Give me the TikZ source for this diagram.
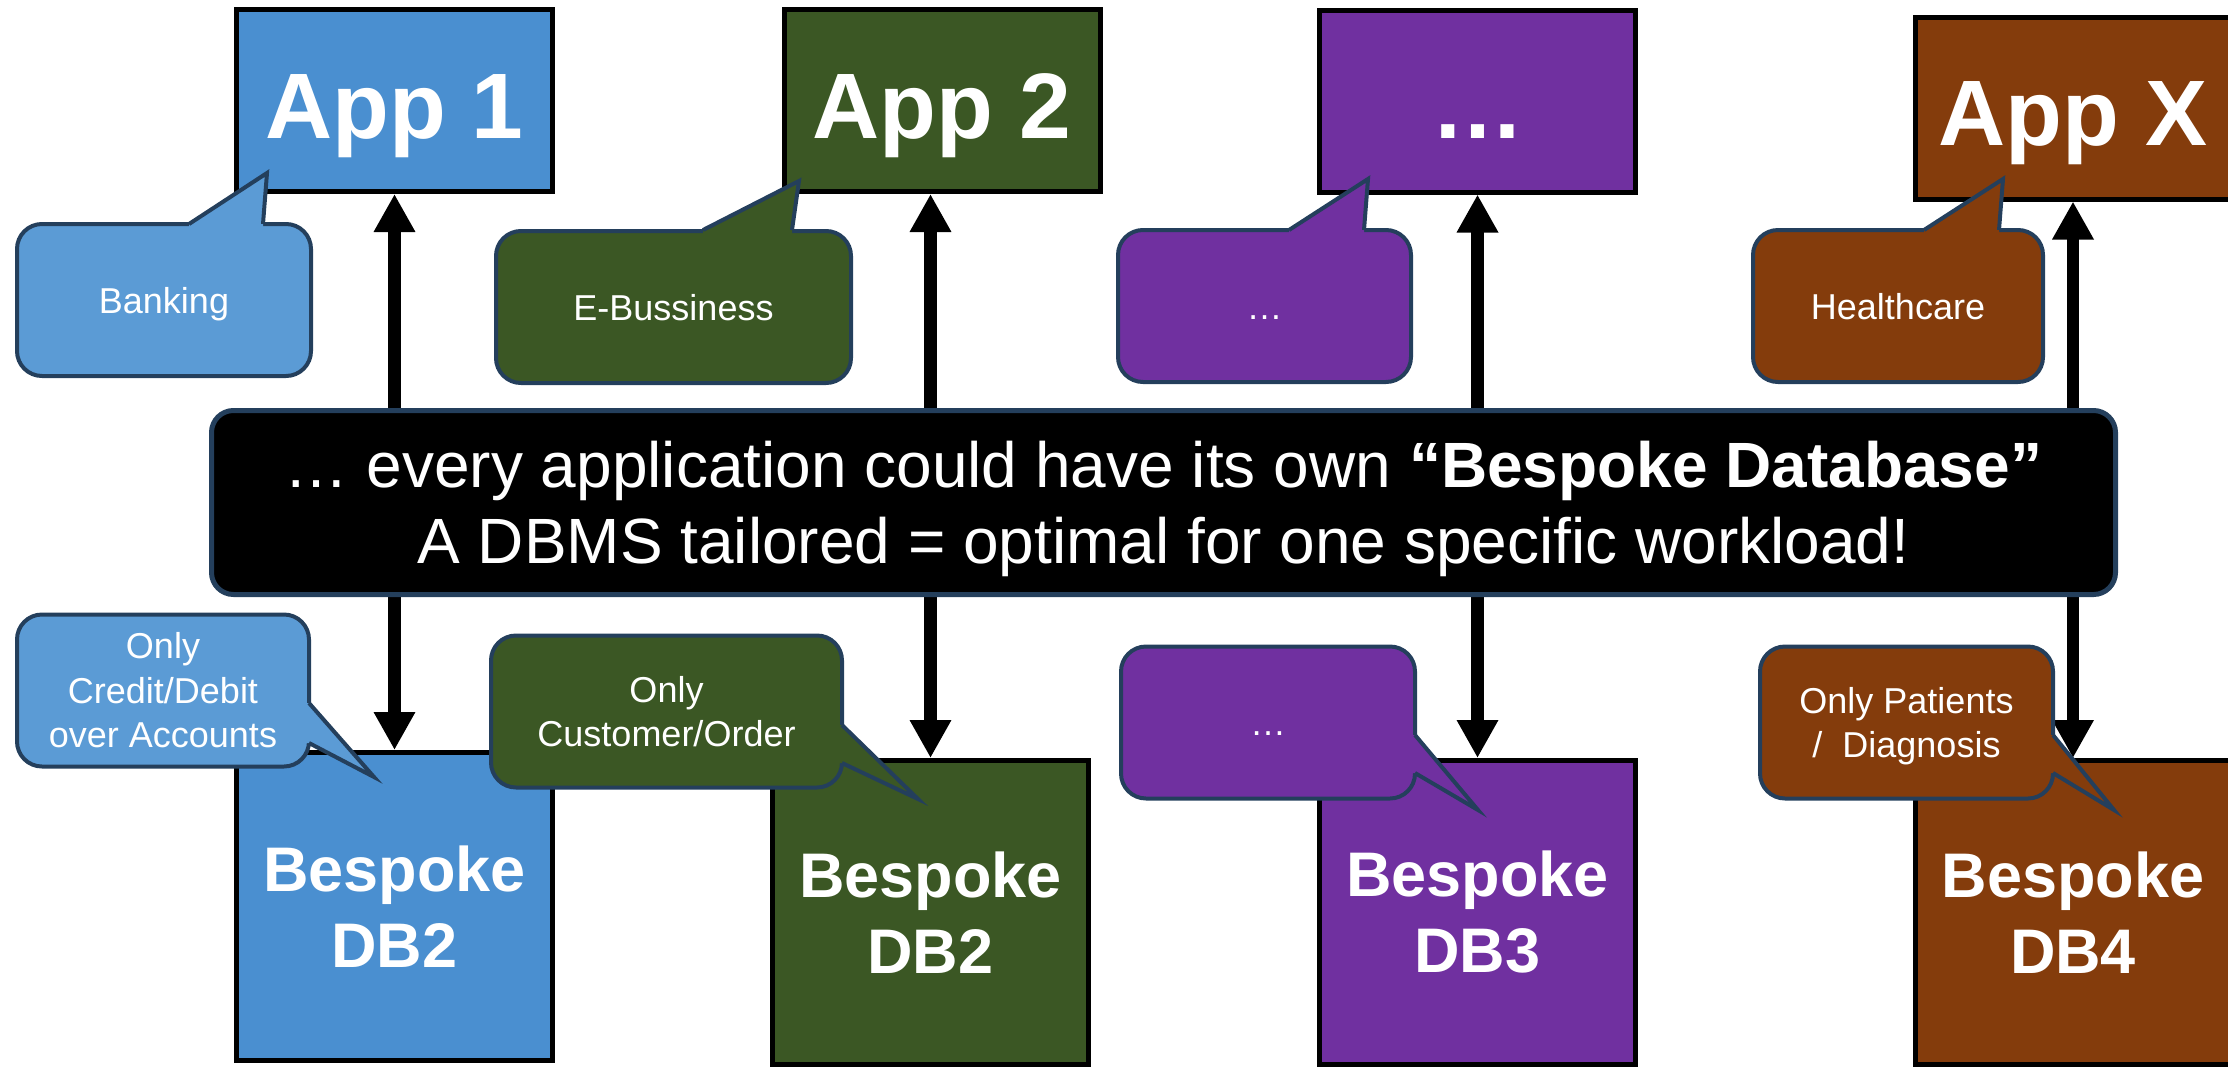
\documentclass[tikz,border=0pt]{standalone}
\usepackage{fontspec}
\setmainfont{Liberation Sans}
\usetikzlibrary{arrows.meta}

\definecolor{appblue}{HTML}{4A8FD0}
\definecolor{noteblue}{HTML}{5B9BD5}
\definecolor{appgreen}{HTML}{3B5724}
\definecolor{apppurple}{HTML}{7030A0}
\definecolor{appbrown}{HTML}{843C0C}
\definecolor{rim}{HTML}{243F5C}

\begin{document}
\begin{tikzpicture}[x=1pt,y=-1pt,
      app/.style={draw=black,line width=5pt,text=white,inner sep=0pt,
        minimum width=316pt,minimum height=182pt,text height=75pt,text depth=0pt,
        font=\bfseries\fontsize{93}{100}\selectfont},
      db/.style={draw=black,line width=5pt,text=white,inner sep=0pt,align=center,
        minimum width=316pt,minimum height=304pt,
        font=\bfseries\fontsize{63}{76}\selectfont},
      note/.style={draw=rim,line width=4pt,rounded corners=25pt,text=white,inner sep=0pt,
        align=center,minimum height=152pt,font=\fontsize{36}{44.5}\selectfont},
      oneline/.style={text height=26pt,text depth=0pt},
      beak/.style={draw=rim,line width=4pt,line join=miter},
      link/.style={line width=12.5pt,{Triangle[width=39pt,length=38pt]}-{Triangle[width=39pt,length=38pt]}},
      banner/.style={draw=rim,line width=5pt,fill=black,rounded corners=22pt,text=white,
        align=center,minimum width=1904pt,minimum height=184pt,text depth=0pt,
        font=\fontsize{64}{76}\selectfont}]
      \useasboundingbox (0,0) rectangle (2228,1069);

      % applications
      \node[app,fill=appblue] (app1) at (394.5,100.5) {App 1};
      \node[app,fill=appgreen] (app2) at (942,100.5) {App 2};
      \node[app,fill=apppurple] (app3) at (1477.5,101) {…};
      \node[app,fill=appbrown] (appx) at (2073,108) {App X};

      % bespoke databases
      \node[db,fill=appblue,minimum height=308pt] (db1) at (394.5,906.5) {Bespoke\\DB2};
      \node[db,fill=appgreen] (db2) at (930.5,912.5) {Bespoke\\DB2};
      \node[db,fill=apppurple] (db3) at (1477.5,912.5) {Bespoke\\DB3};
      \node[db,fill=appbrown] (db4) at (2073,912.5) {Bespoke\\DB4};

      \foreach \a/\d in {app1/db1,app3/db3,appx/db4}
        \draw[link] (\a) -- (\d);
      \draw[link] (db2.north |- app2.south) -- (db2.north);

      % domain notes
      \node[note,oneline,fill=noteblue,minimum width=294pt] (bank) at (164,300) {Banking};
      \node[note,oneline,fill=appgreen,minimum width=355pt] (shop) at (673.5,307) {E-Bussiness};
      \node[note,oneline,fill=apppurple,minimum width=293pt] (etc1) at (1264.5,306) {…};
      \node[note,oneline,fill=appbrown,minimum width=290pt] (care) at (1898,306) {Healthcare};
      \foreach \col/\l/\tx/\ty/\r/\y in {noteblue/189/267/173/263/224,appgreen/703/799/181/792/230,
          apppurple/1289/1368/179/1364/230,appbrown/1924/2003/179/1999/230}{
        \fill[\col] (\l,\y+5) -- (\l,\y) -- (\tx,\ty) -- (\r,\y) -- (\r,\y+5) -- cycle;
        \draw[beak] (\l,\y) -- (\tx,\ty) -- (\r,\y);
      }

      % workload notes
      \node[note,fill=noteblue,minimum width=292pt] (debit) at (163,690.5) {Only\\Credit/Debit\\over Accounts};
      \node[note,fill=appgreen,minimum width=351pt] (order) at (666.5,711.5) {Only\\Customer/Order};
      \node[note,oneline,fill=apppurple,minimum width=294pt] (etc2) at (1268,722.5) {…};
      \node[note,fill=appbrown,minimum width=293pt,text depth=0pt] (diag) at (1906.5,722.5) {Only Patients\\/\ \ Diagnosis};
      \foreach \col/\x/\ya/\tx/\ty/\yb in {noteblue/309/703/374/777/743,appgreen/842/725/918/799/763,
          apppurple/1415/735/1478/810/773,appbrown/2053/735/2114/810/773}{
        \fill[\col] (\x-5,\ya) -- (\x,\ya) -- (\tx,\ty) -- (\x,\yb) -- (\x-5,\yb) -- cycle;
        \draw[beak] (\x,\ya) -- (\tx,\ty) -- (\x,\yb);
      }

      \node[banner] (msg) at (1163.5,502.5)
        {… every application could have its own \textbf{“Bespoke Database”}\\A DBMS tailored = optimal for one specific workload!};
\end{tikzpicture}
\end{document}
